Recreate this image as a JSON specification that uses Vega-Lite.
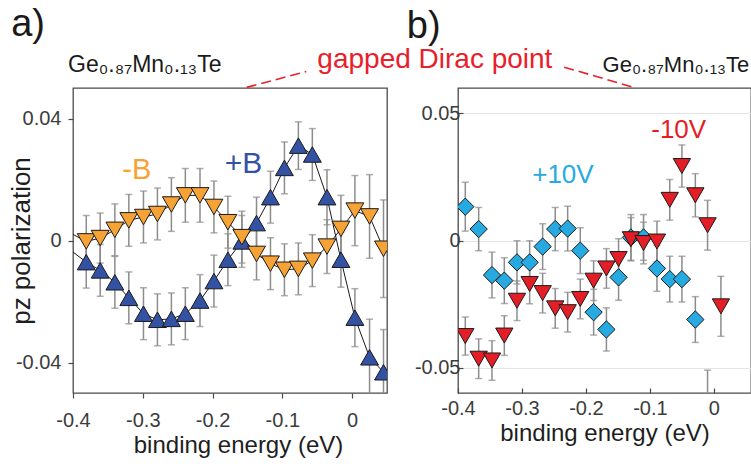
{
  "$schema": "https://vega.github.io/schema/vega-lite/v6.json",
  "padding": {"left": 7, "top": 5, "right": 0, "bottom": 0},
  "background": "white",
  "bounds": "flush",
  "spacing": 71,
  "resolve": {"scale": {"fill": "independent", "shape": "independent"}},
  "datasets": {
    "a": [
      {"series": "+B", "e": -0.42, "p": -0.0003, "err": 0.0085},
      {"series": "+B", "e": -0.381, "p": -0.0071, "err": 0.0085},
      {"series": "+B", "e": -0.361, "p": -0.0098, "err": 0.0085},
      {"series": "+B", "e": -0.340, "p": -0.0137, "err": 0.0085},
      {"series": "+B", "e": -0.320, "p": -0.0188, "err": 0.0085},
      {"series": "+B", "e": -0.299, "p": -0.0240, "err": 0.0085},
      {"series": "+B", "e": -0.279, "p": -0.0260, "err": 0.0085},
      {"series": "+B", "e": -0.259, "p": -0.0257, "err": 0.0085},
      {"series": "+B", "e": -0.239, "p": -0.0240, "err": 0.0085},
      {"series": "+B", "e": -0.218, "p": -0.0197, "err": 0.0085},
      {"series": "+B", "e": -0.198, "p": -0.0133, "err": 0.0085},
      {"series": "+B", "e": -0.178, "p": -0.0063, "err": 0.0085},
      {"series": "+B", "e": -0.158, "p": -0.0003, "err": 0.0085},
      {"series": "+B", "e": -0.137, "p": 0.0057, "err": 0.0085},
      {"series": "+B", "e": -0.117, "p": 0.0142, "err": 0.0085},
      {"series": "+B", "e": -0.097, "p": 0.0238, "err": 0.0085},
      {"series": "+B", "e": -0.077, "p": 0.0311, "err": 0.0078},
      {"series": "+B", "e": -0.057, "p": 0.0282, "err": 0.0085},
      {"series": "+B", "e": -0.036, "p": 0.0142, "err": 0.009},
      {"series": "+B", "e": -0.016, "p": -0.0063, "err": 0.009},
      {"series": "+B", "e": 0.004, "p": -0.0253, "err": 0.0095},
      {"series": "+B", "e": 0.025, "p": -0.0383, "err": 0.0125},
      {"series": "+B", "e": 0.045, "p": -0.0432, "err": 0.014},
      {"series": "-B", "e": -0.42, "p": 0.0044, "err": 0.0085},
      {"series": "-B", "e": -0.381, "p": -0.0003, "err": 0.0085},
      {"series": "-B", "e": -0.361, "p": 0.0008, "err": 0.0082},
      {"series": "-B", "e": -0.340, "p": 0.0035, "err": 0.0085},
      {"series": "-B", "e": -0.320, "p": 0.0066, "err": 0.0085},
      {"series": "-B", "e": -0.299, "p": 0.0077, "err": 0.0085},
      {"series": "-B", "e": -0.279, "p": 0.0087, "err": 0.0085},
      {"series": "-B", "e": -0.259, "p": 0.0118, "err": 0.0088},
      {"series": "-B", "e": -0.239, "p": 0.0148, "err": 0.0088},
      {"series": "-B", "e": -0.218, "p": 0.0148, "err": 0.0088},
      {"series": "-B", "e": -0.198, "p": 0.0110, "err": 0.0085},
      {"series": "-B", "e": -0.178, "p": 0.0060, "err": 0.0085},
      {"series": "-B", "e": -0.158, "p": 0.0011, "err": 0.0085},
      {"series": "-B", "e": -0.137, "p": -0.0044, "err": 0.0085},
      {"series": "-B", "e": -0.117, "p": -0.0076, "err": 0.0085},
      {"series": "-B", "e": -0.097, "p": -0.0096, "err": 0.0085},
      {"series": "-B", "e": -0.077, "p": -0.0093, "err": 0.0085},
      {"series": "-B", "e": -0.057, "p": -0.0066, "err": 0.0085},
      {"series": "-B", "e": -0.036, "p": -0.0020, "err": 0.0088},
      {"series": "-B", "e": -0.016, "p": 0.0038, "err": 0.011},
      {"series": "-B", "e": 0.004, "p": 0.0098, "err": 0.0115},
      {"series": "-B", "e": 0.025, "p": 0.0079, "err": 0.0137},
      {"series": "-B", "e": 0.045, "p": -0.0027, "err": 0.016}
    ],
    "b": [
      {"series": "+10V", "e": -0.3886, "p": 0.0133, "err": 0.0096},
      {"series": "+10V", "e": -0.3677, "p": 0.0045, "err": 0.0085},
      {"series": "+10V", "e": -0.3469, "p": -0.0136, "err": 0.009},
      {"series": "+10V", "e": -0.3276, "p": -0.0158, "err": 0.009},
      {"series": "+10V", "e": -0.3078, "p": -0.0086, "err": 0.0085},
      {"series": "+10V", "e": -0.288, "p": -0.0086, "err": 0.0085},
      {"series": "+10V", "e": -0.2677, "p": -0.0024, "err": 0.009},
      {"series": "+10V", "e": -0.248, "p": 0.0045, "err": 0.0085},
      {"series": "+10V", "e": -0.2286, "p": 0.0047, "err": 0.0088},
      {"series": "+10V", "e": -0.2089, "p": -0.004, "err": 0.009},
      {"series": "+10V", "e": -0.188, "p": -0.0282, "err": 0.009},
      {"series": "+10V", "e": -0.168, "p": -0.035, "err": 0.0085},
      {"series": "+10V", "e": -0.149, "p": -0.0145, "err": 0.009},
      {"series": "+10V", "e": -0.1297, "p": 0.0012, "err": 0.009},
      {"series": "+10V", "e": -0.11, "p": 0.0012, "err": 0.009},
      {"series": "+10V", "e": -0.089, "p": -0.011, "err": 0.009},
      {"series": "+10V", "e": -0.069, "p": -0.0152, "err": 0.009},
      {"series": "+10V", "e": -0.05, "p": -0.0152, "err": 0.009},
      {"series": "+10V", "e": -0.029, "p": -0.0311, "err": 0.009},
      {"series": "+10V", "e": -0.0099, "p": -0.066, "err": 0.015},
      {"series": "-10V", "e": -0.3886, "p": -0.0376, "err": 0.0075},
      {"series": "-10V", "e": -0.3677, "p": -0.0465, "err": 0.0078},
      {"series": "-10V", "e": -0.3469, "p": -0.0472, "err": 0.0078},
      {"series": "-10V", "e": -0.3276, "p": -0.0374, "err": 0.0078},
      {"series": "-10V", "e": -0.3078, "p": -0.0237, "err": 0.0078},
      {"series": "-10V", "e": -0.288, "p": -0.0171, "err": 0.0078},
      {"series": "-10V", "e": -0.2677, "p": -0.0207, "err": 0.0078},
      {"series": "-10V", "e": -0.248, "p": -0.0267, "err": 0.0078},
      {"series": "-10V", "e": -0.2286, "p": -0.0282, "err": 0.0078},
      {"series": "-10V", "e": -0.2089, "p": -0.023, "err": 0.0078},
      {"series": "-10V", "e": -0.188, "p": -0.0158, "err": 0.0078},
      {"series": "-10V", "e": -0.168, "p": -0.011, "err": 0.0078},
      {"series": "-10V", "e": -0.149, "p": -0.0073, "err": 0.008},
      {"series": "-10V", "e": -0.1297, "p": 0.0005, "err": 0.0085},
      {"series": "-10V", "e": -0.11, "p": -0.001, "err": 0.0082},
      {"series": "-10V", "e": -0.089, "p": -0.0004, "err": 0.008},
      {"series": "-10V", "e": -0.069, "p": 0.016, "err": 0.008},
      {"series": "-10V", "e": -0.05, "p": 0.0293, "err": 0.0083},
      {"series": "-10V", "e": -0.029, "p": 0.0178, "err": 0.0085},
      {"series": "-10V", "e": -0.0099, "p": 0.006, "err": 0.0098},
      {"series": "-10V", "e": 0.011, "p": -0.0259, "err": 0.0118}
    ]
  },
  "hconcat": [
    {
      "width": 314,
      "height": 305,
      "layer": [
        {
          "mark": {"type": "rule", "color": "#1a1a1a", "strokeDash": [9, 5], "strokeWidth": 1.2},
          "encoding": {
            "y": {"datum": 0, "type": "quantitative", "scale": {"domain": [-0.05, 0.05], "nice": false, "zero": false}, "title": "pz polarization",
              "axis": {"values": [-0.04, 0, 0.04], "labelExpr": "datum.value == 0 ? '0' : (datum.value < 0 ? '-' : '') + format(abs(datum.value), '.2f')", "tickSize": 5, "labelPadding": 7, "minExtent": 36, "maxExtent": 36, "titlePadding": 3, "titleFontSize": 26}}
          }
        },
        {
          "mark": {"type": "rule", "color": "#1a1a1a", "strokeDash": [8, 5], "strokeWidth": 1.2},
          "encoding": {
            "x": {"datum": 0, "type": "quantitative", "scale": {"domain": [-0.4, 0.05], "nice": false, "zero": false}, "title": "binding energy (eV)",
              "axis": {"values": [-0.4, -0.3, -0.2, -0.1, 0], "labelExpr": "datum.value == 0 ? '0' : (datum.value < 0 ? '-' : '') + format(abs(datum.value), '.1f')", "tickSize": 5, "labelPadding": 12, "titlePadding": 3, "titleX": 165}}
          }
        },
        {
          "mark": {"type": "rule", "color": "#E8202A", "strokeDash": [10, 5], "strokeWidth": 1.6},
          "encoding": {
            "x": {"datum": -0.15, "type": "quantitative", "scale": {"domain": [-0.4, 0.05], "nice": false, "zero": false}, "title": "binding energy (eV)"}
          }
        },
        {
          "data": {"values": [{"e": -0.151, "p": 0.0502, "e2": -0.0657, "p2": 0.0554}]},
          "mark": {"type": "rule", "color": "#E8202A", "strokeDash": [10, 5], "strokeWidth": 1.6, "clip": false},
          "encoding": {
            "x": {"field": "e", "type": "quantitative", "scale": {"domain": [-0.4, 0.05], "nice": false, "zero": false}, "title": "binding energy (eV)"},
            "y": {"field": "p", "type": "quantitative", "scale": {"domain": [-0.05, 0.05], "nice": false, "zero": false}, "title": "pz polarization"},
            "x2": {"field": "e2"},
            "y2": {"field": "p2"}
          }
        },
        {
          "data": {"name": "a"},
          "mark": {"type": "line", "color": "#1a1a1a", "strokeWidth": 1, "clip": true},
          "encoding": {
            "x": {"field": "e", "type": "quantitative", "scale": {"domain": [-0.4, 0.05], "nice": false, "zero": false}, "title": "binding energy (eV)"},
            "y": {"field": "p", "type": "quantitative", "scale": {"domain": [-0.05, 0.05], "nice": false, "zero": false}, "title": "pz polarization"},
            "detail": {"field": "series"}
          }
        },
        {
          "data": {"name": "a"},
          "mark": {"type": "errorbar", "ticks": {"size": 7}, "color": "#8c8c8c", "thickness": 1.5, "clip": true},
          "encoding": {
            "x": {"field": "e", "type": "quantitative", "scale": {"domain": [-0.4, 0.05], "nice": false, "zero": false}, "title": "binding energy (eV)"},
            "y": {"field": "p", "type": "quantitative", "scale": {"domain": [-0.05, 0.05], "nice": false, "zero": false}, "title": "pz polarization"},
            "yError": {"field": "err"},
            "detail": {"field": "series"}
          }
        },
        {
          "data": {"name": "a"},
          "mark": {"type": "point", "filled": true, "size": 320, "stroke": "#1a1a1a", "strokeWidth": 1, "opacity": 1, "clip": true},
          "encoding": {
            "x": {"field": "e", "type": "quantitative", "scale": {"domain": [-0.4, 0.05], "nice": false, "zero": false}, "title": "binding energy (eV)"},
            "y": {"field": "p", "type": "quantitative", "scale": {"domain": [-0.05, 0.05], "nice": false, "zero": false}, "title": "pz polarization"},
            "shape": {"field": "series", "type": "nominal", "scale": {"domain": ["+B", "-B"], "range": ["triangle-up", "triangle-down"]}, "legend": null},
            "fill": {"field": "series", "type": "nominal", "scale": {"domain": ["+B", "-B"], "range": ["#3352A3", "#F7A234"]}, "legend": null}
          }
        },
        {
          "data": {"values": [{"e": -0.3086, "p": 0.023, "t": "-B"}]},
          "mark": {"type": "text", "color": "#F7A234", "fontSize": 29, "align": "center", "baseline": "middle", "clip": false},
          "encoding": {
            "x": {"field": "e", "type": "quantitative", "title": "binding energy (eV)"},
            "y": {"field": "p", "type": "quantitative", "title": "pz polarization"},
            "text": {"field": "t"}
          }
        },
        {
          "data": {"values": [{"e": -0.1557, "p": 0.0252, "t": "+B"}]},
          "mark": {"type": "text", "color": "#3352A3", "fontSize": 30, "align": "center", "baseline": "middle", "clip": false},
          "encoding": {
            "x": {"field": "e", "type": "quantitative", "title": "binding energy (eV)"},
            "y": {"field": "p", "type": "quantitative", "title": "pz polarization"},
            "text": {"field": "t"}
          }
        },
        {
          "data": {"values": [{"e": -0.407, "p": 0.0551, "t": "Ge₀.₈₇Mn₀.₁₃Te"}]},
          "mark": {"type": "text", "color": "#1a1a1a", "fontSize": 23, "align": "left", "baseline": "alphabetic", "clip": false},
          "encoding": {
            "x": {"field": "e", "type": "quantitative", "title": "binding energy (eV)"},
            "y": {"field": "p", "type": "quantitative", "title": "pz polarization"},
            "text": {"field": "t"}
          }
        },
        {
          "data": {"values": [{"e": 0.1186, "p": 0.0567, "t": "gapped Dirac point"}]},
          "mark": {"type": "text", "color": "#E8202A", "fontSize": 28, "align": "center", "baseline": "alphabetic", "clip": false},
          "encoding": {
            "x": {"field": "e", "type": "quantitative", "title": "binding energy (eV)"},
            "y": {"field": "p", "type": "quantitative", "title": "pz polarization"},
            "text": {"field": "t"}
          }
        },
        {
          "data": {"values": [{"e": -0.4886, "p": 0.067, "t": "a)"}]},
          "mark": {"type": "text", "color": "#1a1a1a", "fontSize": 38, "align": "left", "baseline": "alphabetic", "clip": false},
          "encoding": {
            "x": {"field": "e", "type": "quantitative", "title": "binding energy (eV)"},
            "y": {"field": "p", "type": "quantitative", "title": "pz polarization"},
            "text": {"field": "t"}
          }
        }
      ]
    },
    {
      "width": 293,
      "height": 305,
      "layer": [
        {
          "mark": {"type": "rule", "color": "#1a1a1a", "strokeDash": [8, 5], "strokeWidth": 1.2},
          "encoding": {
            "x": {"datum": 0, "type": "quantitative", "scale": {"domain": [-0.4, 0.058], "nice": false, "zero": false}, "title": "binding energy (eV)",
              "axis": {"values": [-0.4, -0.3, -0.2, -0.1, 0], "labelExpr": "datum.value == 0 ? '0' : (datum.value < 0 ? '-' : '') + format(abs(datum.value), '.1f')", "tickSize": -5, "labelPadding": 10, "titlePadding": 3}}
          }
        },
        {
          "mark": {"type": "rule", "color": "#E8202A", "strokeDash": [10, 5], "strokeWidth": 1.6},
          "encoding": {
            "x": {"datum": -0.122, "type": "quantitative", "scale": {"domain": [-0.4, 0.058], "nice": false, "zero": false}, "title": "binding energy (eV)"}
          }
        },
        {
          "data": {"values": [{"e": -0.234, "p": 0.0682, "e2": -0.122, "p2": 0.06}]},
          "mark": {"type": "rule", "color": "#E8202A", "strokeDash": [10, 5], "strokeWidth": 1.6, "clip": false},
          "encoding": {
            "x": {"field": "e", "type": "quantitative", "scale": {"domain": [-0.4, 0.058], "nice": false, "zero": false}, "title": "binding energy (eV)"},
            "y": {"field": "p", "type": "quantitative", "scale": {"domain": [-0.06, 0.06], "nice": false, "zero": false}, "title": null,
              "axis": {"values": [-0.05, 0, 0.05], "labelExpr": "datum.value == 0 ? '0' : (datum.value < 0 ? '-' : '') + format(abs(datum.value), '.2f')", "tickSize": -5, "labelPadding": 3}},
            "x2": {"field": "e2"},
            "y2": {"field": "p2"}
          }
        },
        {
          "data": {"name": "b"},
          "mark": {"type": "errorbar", "ticks": {"size": 7}, "color": "#8c8c8c", "thickness": 1.5, "clip": true},
          "encoding": {
            "x": {"field": "e", "type": "quantitative", "scale": {"domain": [-0.4, 0.058], "nice": false, "zero": false}, "title": "binding energy (eV)"},
            "y": {"field": "p", "type": "quantitative", "scale": {"domain": [-0.06, 0.06], "nice": false, "zero": false}, "title": null},
            "yError": {"field": "err"},
            "detail": {"field": "series"}
          }
        },
        {
          "data": {"name": "b"},
          "mark": {"type": "point", "filled": true, "size": 300, "stroke": "#1a1a1a", "strokeWidth": 1, "opacity": 1, "clip": true},
          "encoding": {
            "x": {"field": "e", "type": "quantitative", "scale": {"domain": [-0.4, 0.058], "nice": false, "zero": false}, "title": "binding energy (eV)"},
            "y": {"field": "p", "type": "quantitative", "scale": {"domain": [-0.06, 0.06], "nice": false, "zero": false}, "title": null},
            "shape": {"field": "series", "type": "nominal", "scale": {"domain": ["+10V", "-10V"], "range": ["diamond", "triangle-down"]}, "legend": null},
            "fill": {"field": "series", "type": "nominal", "scale": {"domain": ["+10V", "-10V"], "range": ["#27AAE1", "#E41E26"]}, "legend": null}
          }
        },
        {
          "data": {"values": [{"e": -0.236, "p": 0.0259, "t": "+10V"}]},
          "mark": {"type": "text", "color": "#27AAE1", "fontSize": 26, "align": "center", "baseline": "middle", "clip": false},
          "encoding": {
            "x": {"field": "e", "type": "quantitative", "title": "binding energy (eV)"},
            "y": {"field": "p", "type": "quantitative", "title": null},
            "text": {"field": "t"}
          }
        },
        {
          "data": {"values": [{"e": -0.055, "p": 0.0435, "t": "-10V"}]},
          "mark": {"type": "text", "color": "#E41E26", "fontSize": 26, "align": "center", "baseline": "middle", "clip": false},
          "encoding": {
            "x": {"field": "e", "type": "quantitative", "title": "binding energy (eV)"},
            "y": {"field": "p", "type": "quantitative", "title": null},
            "text": {"field": "t"}
          }
        },
        {
          "data": {"values": [{"e": -0.174, "p": 0.0663, "t": "Ge₀.₈₇Mn₀.₁₃Te"}]},
          "mark": {"type": "text", "color": "#1a1a1a", "fontSize": 22, "align": "left", "baseline": "alphabetic", "clip": false},
          "encoding": {
            "x": {"field": "e", "type": "quantitative", "title": "binding energy (eV)"},
            "y": {"field": "p", "type": "quantitative", "title": null},
            "text": {"field": "t"}
          }
        },
        {
          "data": {"values": [{"e": -0.48, "p": 0.0796, "t": "b)"}]},
          "mark": {"type": "text", "color": "#1a1a1a", "fontSize": 38, "align": "left", "baseline": "alphabetic", "clip": false},
          "encoding": {
            "x": {"field": "e", "type": "quantitative", "title": "binding energy (eV)"},
            "y": {"field": "p", "type": "quantitative", "title": null},
            "text": {"field": "t"}
          }
        }
      ]
    }
  ],
  "config": {
    "font": "Liberation Sans",
    "view": {"stroke": "#4a4a4a", "strokeWidth": 1.3},
    "axis": {
      "domain": false,
      "labelFontSize": 20,
      "labelColor": "#3c3c3c",
      "labelFlush": false,
      "labelOverlap": false,
      "titleFontSize": 24,
      "titleFontWeight": "normal",
      "titleColor": "#1e1e1e",
      "gridColor": "#e4e4e4",
      "tickColor": "#4a4a4a",
      "tickWidth": 1.2
    }
  }
}
